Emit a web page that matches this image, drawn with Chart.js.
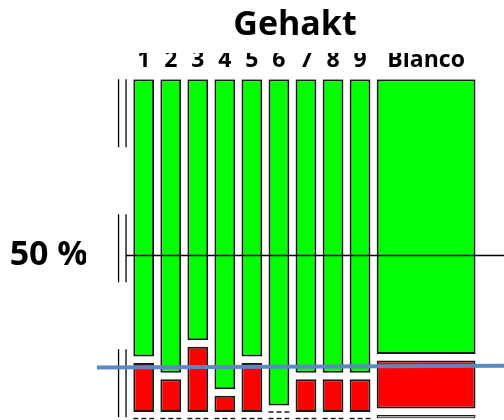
<!DOCTYPE html>
<html>
<head>
<meta charset="utf-8">
<script src="https://cdn.jsdelivr.net/npm/chart.js@4.4.1/dist/chart.umd.min.js"></script>
<style>
  html, body { margin: 0; padding: 0; background: #fff; }
  #wrap { width: 504px; height: 420px; }
</style>
</head>
<body>
<div id="wrap"><canvas id="chart" width="504" height="420"></canvas></div>
<script>
// Mosaic of panel scores for minced meat ("Gehakt"): samples 1-9 and the blank.
const categories  = ['1', '2', '3', '4', '5', '6', '7', '8', '9', 'Blanco'];
const greenCounts = [17, 18, 16, 19, 17, 20, 18, 18, 18, 80];
const redCounts   = [3, 2, 4, 1, 3, 0, 2, 2, 2, 14];
const otherCounts = [0, 0, 0, 0, 0, 0, 0, 0, 0, 1];

// y-axis tick (percent of a column) and the horizontal guide drawn at it
const yTicks = [50];
const referenceLevel = 50;
// blue guide line, level at its left and right end
const blueLine = [15.6, 16.2];

// layout of the mosaic in axis units
const COL_GAP = 6;            // x units between columns
const TILE_GAP = 2;           // y units between stacked tiles
const TOP = 100 + 2 * TILE_GAP;
const X_MIN = -45.5, X_MAX = 356.4;
const AXIS_LINES = [-14.2, -7.0];
const BLUE_START = -35;
const LABEL_CUT = 7.2;        // px hidden at the top of the label row

const totals = categories.map((_, i) => greenCounts[i] + redCounts[i] + otherCounts[i]);
const lefts = [];
let acc = 0;
totals.forEach(n => { lefts.push(acc); acc += n + COL_GAP; });
const centers = lefts.map((l, i) => l + totals[i] / 2);
let minSpacing = Infinity;
for (let i = 1; i < centers.length; i++) minSpacing = Math.min(minSpacing, centers[i] - centers[i - 1]);

const GREEN = '#00ff00', RED = '#ff0000', GREY = '#a3a3a3', EDGE = '#1a1a1a';
const TILE_COLORS = [GREEN, RED, GREY];
const TILE_EDGES = [2, 2, 1.3];

const barSets = [];
const zeroSegments = [];
categories.forEach((cat, i) => {
  const n = totals[i];
  const parts = [greenCounts[i], redCounts[i], otherCounts[i]];
  const data = [];
  const bg = [];
  const bw = [];
  let top = TOP;
  parts.forEach((c, k) => {
    const h = 100 * c / n;
    if (c > 0) {
      data.push({ x: centers[i], y: [top - h, top] });
      bg.push(TILE_COLORS[k]);
      bw.push(TILE_EDGES[k]);
    } else {
      zeroSegments.push({ x: lefts[i], y: top }, { x: lefts[i] + n, y: top }, { x: lefts[i] + n + 0.5, y: null });
    }
    top = top - h - TILE_GAP;
  });
  barSets.push({
    type: 'bar',
    label: cat,
    data,
    backgroundColor: bg,
    borderColor: EDGE,
    borderWidth: bw,
    borderSkipped: false,
    grouped: false,
    categoryPercentage: 1,
    barPercentage: n / minSpacing,
    order: 2
  });
});

const lineSets = [
  {
    type: 'line', label: 'nul', data: zeroSegments, borderColor: '#222', borderWidth: 1.5,
    borderDash: [5, 3], pointRadius: 0, spanGaps: false, clip: false, order: 1
  },
  ...AXIS_LINES.map(x => ({
    type: 'line', label: 'as', data: [{ x, y: TOP }, { x, y: -1 }], borderColor: '#000',
    borderWidth: 1.3, borderDash: [68, 67], pointRadius: 0, clip: false, order: 1
  })),
  {
    type: 'line', label: '50 %', data: [{ x: AXIS_LINES[1], y: referenceLevel }, { x: X_MAX, y: referenceLevel }],
    borderColor: '#000', borderWidth: 1.5, pointRadius: 0, clip: false, order: 1
  },
  {
    type: 'line', label: 'lijn', data: [{ x: BLUE_START, y: blueLine[0] }, { x: X_MAX, y: blueLine[1] }],
    borderColor: '#5b87c2', borderWidth: 4, pointRadius: 0, clip: false, order: 0
  }
];

// trims the tops of the column labels
const labelMask = {
  id: 'labelMask',
  afterDraw(chart) {
    const s = chart.scales.x;
    const ctx = chart.ctx;
    ctx.save();
    ctx.fillStyle = '#fff';
    ctx.fillRect(s.left, s.top - 4, s.width, LABEL_CUT + 4);
    ctx.restore();
  }
};

// axes keep exactly the size given, without extra label padding
const noPadding = s => {
  s.paddingLeft = 0; s.paddingRight = 0; s.paddingTop = 0; s.paddingBottom = 0;
};

const FONT = 'Open Sans';

new Chart(document.getElementById('chart'), {
  data: { datasets: [...barSets, ...lineSets] },
  plugins: [labelMask],
  options: {
    responsive: false,
    animation: false,
    events: [],
    layout: { padding: { bottom: 1.5 }, autoPadding: false },
    plugins: {
      legend: { display: false },
      tooltip: { enabled: false },
      title: {
        display: true, text: 'Gehakt', fullSize: false, color: '#000',
        font: { family: FONT, size: 34, weight: 'bold' },
        padding: { top: 5, bottom: 0 }
      }
    },
    scales: {
      x: {
        type: 'linear', position: 'top', min: X_MIN, max: X_MAX, offset: false,
        grid: { display: false, drawTicks: false, offset: false }, border: { display: false },
        afterBuildTicks: s => { s.ticks = centers.map(v => ({ value: v })); },
        afterFit: s => { s.height = 33.5; noPadding(s); },
        ticks: {
          autoSkip: false, maxRotation: 0, padding: 5.5, color: '#000',
          font: { family: FONT, size: 23, weight: 'bold' },
          callback: (v, i) => categories[i]
        }
      },
      y: {
        type: 'linear', position: 'left', min: 0, max: TOP,
        grid: { display: false, drawTicks: false }, border: { display: false },
        afterBuildTicks: s => { s.ticks = yTicks.map(v => ({ value: v })); },
        afterFit: s => { s.width = 86; noPadding(s); },
        ticks: {
          padding: -2, color: '#000',
          font: { family: FONT, size: 34, weight: 'bold' },
          callback: v => v + ' %'
        }
      }
    }
  }
});
</script>
</body>
</html>
